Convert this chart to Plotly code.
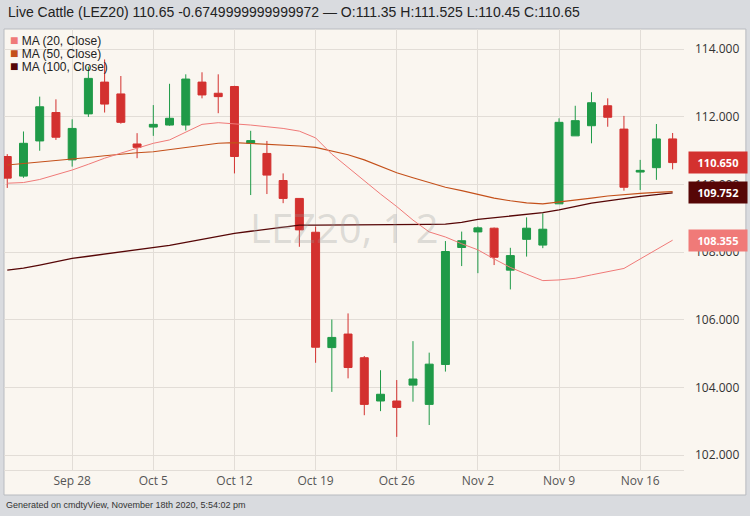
import plotly.graph_objects as go

dates = ["Sep 22", "Sep 23", "Sep 24", "Sep 25",
         "Sep 28", "Sep 29", "Sep 30", "Oct 1", "Oct 2",
         "Oct 5", "Oct 6", "Oct 7", "Oct 8", "Oct 9",
         "Oct 12", "Oct 13", "Oct 14", "Oct 15", "Oct 16",
         "Oct 19", "Oct 20", "Oct 21", "Oct 22", "Oct 23",
         "Oct 26", "Oct 27", "Oct 28", "Oct 29", "Oct 30",
         "Nov 2", "Nov 3", "Nov 4", "Nov 5", "Nov 6",
         "Nov 9", "Nov 10", "Nov 11", "Nov 12", "Nov 13",
         "Nov 16", "Nov 17", "Nov 18"]

opens = [110.83, 110.25, 111.29, 112.13, 110.73, 112.09, 113.03, 112.68, 111.2,
         111.7, 111.76, 111.76, 113.03, 112.7, 112.9, 111.22, 110.92, 110.12, 109.59,
         108.59, 105.18, 105.58, 104.88, 103.6, 103.6, 104.07, 103.5, 104.68, 108.14,
         108.6, 108.71, 107.47, 108.38, 108.21, 109.43, 111.44, 111.74, 112.33, 111.64,
         110.37, 110.5, 111.35]
highs = [110.9, 111.57, 112.6, 112.52, 111.93, 113.49, 113.7, 113.21, 111.52,
         112.35, 112.98, 113.26, 113.32, 113.26, 112.92, 111.59, 111.29, 110.33, 109.59,
         108.76, 106.01, 106.19, 104.93, 104.51, 104.22, 105.37, 105.03, 108.33, 108.61,
         108.76, 108.73, 108.13, 109.03, 109.15, 111.96, 112.33, 112.73, 112.55, 112.03,
         110.73, 111.79, 111.525]
lows = [109.9, 110.2, 111.0, 111.32, 110.53, 112.0, 112.13, 111.8, 110.78,
        111.44, 111.74, 111.6, 112.55, 112.11, 110.33, 109.69, 109.72, 109.45, 108.16,
        104.73, 103.87, 104.27, 103.18, 103.3, 102.54, 103.58, 102.89, 104.47, 107.59,
        107.38, 107.62, 106.9, 107.87, 108.12, 109.43, 111.44, 111.22, 111.71, 109.82,
        109.84, 110.14, 110.45]
closes = [110.19, 111.22, 112.3, 111.4, 111.66, 113.14, 112.38, 111.84, 111.1,
          111.78, 111.96, 113.12, 112.65, 112.6, 110.83, 111.3, 110.28, 109.59, 108.66,
          105.19, 105.48, 104.59, 103.5, 103.8, 103.41, 104.25, 104.69, 108.02, 108.34,
          108.72, 107.85, 107.9, 108.71, 108.68, 111.84, 111.89, 112.42, 111.99, 109.92,
          110.42, 111.35, 110.65]

ma20 = [110.04, 110.06, 110.15, 110.28, 110.43, 110.6, 110.78, 110.93, 111.08,
        111.22, 111.32, 111.55, 111.78, 111.83, 111.8, 111.76, 111.71, 111.66, 111.58,
        111.38, 110.9, 110.5, 110.1, 109.72, 109.35, 108.95, 108.6, 108.45, 108.25,
        108.07, 107.8, 107.55, 107.35, 107.16, 107.18, 107.23, 107.33, 107.43, 107.52,
        107.8, 108.08, 108.355]
ma50 = [110.58, 110.62, 110.66, 110.7, 110.76, 110.8, 110.85, 110.9, 110.94,
        110.97, 111.03, 111.1, 111.17, 111.22, 111.24, 111.22, 111.2, 111.17, 111.14,
        111.1, 111.0, 110.88, 110.73, 110.55, 110.35, 110.2, 110.05, 109.92, 109.82,
        109.7, 109.6, 109.52, 109.46, 109.43, 109.48, 109.55, 109.6, 109.66, 109.71,
        109.74, 109.77, 109.79]
ma100 = [107.47, 107.53, 107.62, 107.72, 107.82, 107.88, 107.94, 108.0, 108.06,
         108.12, 108.2, 108.29, 108.38, 108.47, 108.56, 108.62, 108.68, 108.74, 108.8,
         108.8, 108.8, 108.8, 108.8, 108.8, 108.8, 108.81, 108.82, 108.83, 108.88,
         108.97, 109.02, 109.07, 109.12, 109.17, 109.25, 109.35, 109.45, 109.52, 109.59,
         109.65, 109.7, 109.752]

tick_labels = ["Sep 28", "Oct 5", "Oct 12", "Oct 19", "Oct 26", "Nov 2", "Nov 9", "Nov 16"]
y_ticks = [102, 104, 106, 108, 110, 112, 114]

GREEN = "#1f9a48"
RED = "#d3312f"
C20, C50, C100 = "#f07a78", "#c4501a", "#560606"
PANEL = "#faf6f0"

fig = go.Figure()
fig.add_trace(go.Scatter(x=dates, y=ma100, mode="lines", line=dict(color=C100, width=1.3)))
fig.add_trace(go.Scatter(x=dates, y=ma50, mode="lines", line=dict(color=C50, width=1.1)))
fig.add_trace(go.Scatter(x=dates, y=ma20, mode="lines", line=dict(color=C20, width=1)))
fig.add_trace(go.Candlestick(
    x=dates, open=opens, high=highs, low=lows, close=closes,
    increasing=dict(line=dict(color=GREEN, width=1), fillcolor=GREEN),
    decreasing=dict(line=dict(color=RED, width=1), fillcolor=RED),
    whiskerwidth=0,
))

fig.update_layout(
    width=750, height=516,
    margin=dict(l=4, r=66, t=29, b=46),
    paper_bgcolor="#d9dbdf", plot_bgcolor=PANEL,
    showlegend=False,
    font=dict(family="Open Sans, Arial", size=12, color="#333"),
    xaxis=dict(type="category", range=[-0.2, 41.7], rangeslider=dict(visible=False),
               tickvals=tick_labels, ticktext=tick_labels, showgrid=True,
               gridcolor="#e2ddd7", ticks="", tickfont=dict(size=12, color="#555"),
               showline=True, linecolor="#e2ddd7", fixedrange=True),
    yaxis=dict(side="right", range=[101.56, 114.6], tickvals=y_ticks, tickformat=".3f",
               gridcolor="#e2ddd7", showline=False, zeroline=False,
               tickfont=dict(size=12, color="#333"), ticklabelstandoff=10),
    shapes=[dict(type="rect", xref="paper", yref="paper", x0=0, x1=1.091,
                 y0=-0.0567, y1=1, fillcolor=PANEL, line=dict(color="#b8bbc0", width=1),
                 layer="below")],
)

fig.add_annotation(x=0.5, y=0.55, xref="paper", yref="paper", text="LEZ20, 1 2",
                   showarrow=False, font=dict(size=40, color="rgba(150,150,150,0.3)"))
fig.add_annotation(x=0, y=1 + 17 / 441, xref="paper", yref="paper", xanchor="left",
                   yanchor="middle",
                   text="Live Cattle (LEZ20) 110.65 -0.6749999999999972 — O:111.35 H:111.525 L:110.45 C:110.65",
                   showarrow=False, font=dict(family="Liberation Sans, Arial", size=14, color="#222"),
                   xshift=2)
fig.add_annotation(x=0, y=-35 / 441, xref="paper", yref="paper", xanchor="left",
                   yanchor="middle",
                   text="Generated on cmdtyView, November 18th 2020, 5:54:02 pm",
                   showarrow=False, font=dict(family="Liberation Sans, Arial", size=9, color="#333"))

for i, (name, col) in enumerate([("MA (20, Close)", C20), ("MA (50, Close)", C50),
                                 ("MA (100, Close)", C100)]):
    fig.add_annotation(x=0, y=1 - (11 + 13 * i) / 441, xref="paper", yref="paper",
                       xanchor="left", yanchor="middle", xshift=4, showarrow=False,
                       text=f"<span style='color:{col};font-size:14px'>■</span> {name}",
                       font=dict(family="Liberation Sans, Arial", size=12, color="#222"))

for val, col in [(closes[-1], RED), (ma100[-1], C100), (ma20[-1], C20)]:
    fig.add_annotation(x=1, y=val, xref="paper", yref="y", xanchor="left", xshift=4,
                       text=f"<b>{val:.3f}</b>", showarrow=False, bgcolor=col,
                       font=dict(size=11, color="white"), borderpad=3, width=52)

fig.write_html("out.html", config={"displayModeBar": False},
               post_script="document.body.style.margin='0';")
